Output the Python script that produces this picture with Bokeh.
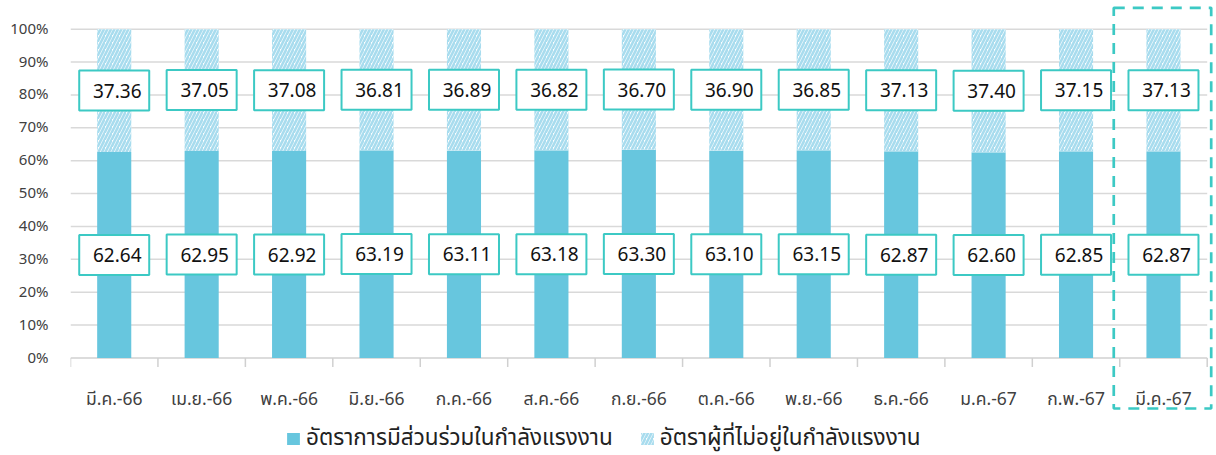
from bokeh.plotting import figure
from bokeh.models import ColumnDataSource, FixedTicker, Legend, LegendItem
from bokeh.core.properties import value
from bokeh.embed import file_html
from bokeh.resources import INLINE

# ---------------- data ----------------
months = ["มี.ค.-66", "เม.ย.-66", "พ.ค.-66", "มิ.ย.-66", "ก.ค.-66", "ส.ค.-66", "ก.ย.-66",
          "ต.ค.-66", "พ.ย.-66", "ธ.ค.-66", "ม.ค.-67", "ก.พ.-67", "มี.ค.-67"]
participation = [62.64, 62.95, 62.92, 63.19, 63.11, 63.18, 63.30, 63.10, 63.15, 62.87, 62.60, 62.85, 62.87]
non_participation = [37.36, 37.05, 37.08, 36.81, 36.89, 36.82, 36.70, 36.90, 36.85, 37.13, 37.40, 37.15, 37.13]
y_ticks = [0, 10, 20, 30, 40, 50, 60, 70, 80, 90, 100]
series_names = ["อัตราการมีส่วนร่วมในกำลังแรงงาน", "อัตราผู้ที่ไม่อยู่ในกำลังแรงงาน"]
highlight_month = "มี.ค.-67"

# ---------------- style / layout ----------------
FONT = "Tahoma, 'Noto Sans Thai', 'Noto Sans', sans-serif"
SOLID = "#67c6de"
HATCH = "#a8dcee"
TEAL = "#3cc9c4"
GRID = "#d9d9d9"
AXIS = "#d0d0d0"

W, H = 1216, 455
FRAME_LEFT, FRAME_TOP = 70, 4
PX_ZERO, PX_HUNDRED = 357.5, 28.7          # pixel rows of 0% and 100%
AXIS_RIGHT = 1206.7                         # pixel column where the category axis ends
n = len(months)
px_per_y = (PX_ZERO - PX_HUNDRED) / 100.0
px_per_x = (AXIS_RIGHT - FRAME_LEFT) / n


def ypix(py):   # pixel row -> data y
    return (PX_ZERO - py) / px_per_y


def xpix(px):   # pixel column -> data x
    return (px - FRAME_LEFT) / px_per_x - 0.5


xs = list(range(n))
tops = [a + b for a, b in zip(participation, non_participation)]
src = ColumnDataSource(dict(
    x=xs, part=participation, nonp=non_participation, top=tops,
    part_lbl=[f"{v:.2f}" for v in participation],
    nonp_lbl=[f"{v:.2f}" for v in non_participation],
    part_mid=[v / 2 for v in participation],
    nonp_mid=[a + b / 2 for a, b in zip(participation, non_participation)],
    zero=[0] * n, month=months,
))

p = figure(width=W, height=H, output_backend="svg", toolbar_location=None,
           x_range=(xpix(FRAME_LEFT), xpix(W)), y_range=(ypix(H), ypix(FRAME_TOP)),
           x_axis_location=None,
           min_border_left=FRAME_LEFT, min_border_right=0, min_border_top=FRAME_TOP,
           min_border_bottom=0, outline_line_color=None)
p.background_fill_color = "white"
p.xgrid.grid_line_color = None
p.ygrid.grid_line_color = None

# gridlines and category axis (drawn inside the frame)
grid_y = [t for t in y_ticks if t > 0]
p.segment(x0=[-0.5] * len(grid_y), x1=[n - 0.5] * len(grid_y), y0=grid_y, y1=grid_y,
          line_color=GRID, line_width=1.5)
p.segment(x0=[-0.5], x1=[n - 0.5], y0=[0], y1=[0], line_color=AXIS, line_width=1.5)
bounds = [i - 0.5 for i in range(n + 1)]
p.segment(x0=bounds, x1=bounds, y0=[0] * len(bounds), y1=[ypix(PX_ZERO + 9)] * len(bounds),
          line_color=AXIS, line_width=1.5)
p.text(x="x", y="zero", text="month", source=src, text_align="center",
       text_baseline="alphabetic", y_offset=41, text_font=value(FONT),
       text_font_size="17.5px", text_color="#404040")

# bars
r1 = p.vbar(x="x", bottom=0, top="part", width=0.39, source=src,
            fill_color=SOLID, line_color=None)
r2 = p.vbar(x="x", bottom="part", top="top", width=0.39, source=src,
            fill_color="white", line_color=None,
            hatch_pattern="/", hatch_color=HATCH, hatch_scale=7, hatch_weight=2.6)

# value labels in boxes at segment centres
for ycol, tcol in (("nonp_mid", "nonp_lbl"), ("part_mid", "part_lbl")):
    p.rect(x="x", y=ycol, width=70 / px_per_x, height=40, height_units="screen", source=src,
           fill_color="white", line_color=TEAL, line_width=2)
    p.text(x="x", y=ycol, text=tcol, source=src, text_align="center",
           text_baseline="middle", text_font=value(FONT), text_font_size="19px",
           text_color="#111111", x_offset=3)

# dashed highlight around the latest month
hi = months.index(highlight_month)
p.quad(left=[hi - 0.5 - 6 / px_per_x], right=[hi + 0.5 + 4 / px_per_x],
       top=[ypix(7.3)], bottom=[ypix(408)],
       fill_color=None, line_color=TEAL, line_width=2.7, line_dash="11 8")

# y axis
p.yaxis.ticker = FixedTicker(ticks=y_ticks)
p.yaxis.major_label_overrides = {t: f"{t}%" for t in y_ticks}
p.yaxis.axis_line_color = None
p.yaxis.major_tick_line_color = None
p.yaxis.minor_tick_line_color = None
p.yaxis.major_label_text_font = FONT
p.yaxis.major_label_text_font_size = "15px"
p.yaxis.major_label_text_color = "#404040"
p.yaxis.major_label_standoff = 16

legend = Legend(items=[LegendItem(label=series_names[0], renderers=[r1]),
                       LegendItem(label=series_names[1], renderers=[r2])],
                orientation="horizontal", location=(285 - FRAME_LEFT, 0),
                label_text_font=FONT, label_text_font_size="22.5px",
                label_text_color="#222222", border_line_color=None,
                background_fill_alpha=0,
                glyph_width=16, glyph_height=15, spacing=26, padding=0,
                margin=0, label_standoff=5)
p.add_layout(legend)

open("out.html", "w").write(file_html(p, INLINE))
